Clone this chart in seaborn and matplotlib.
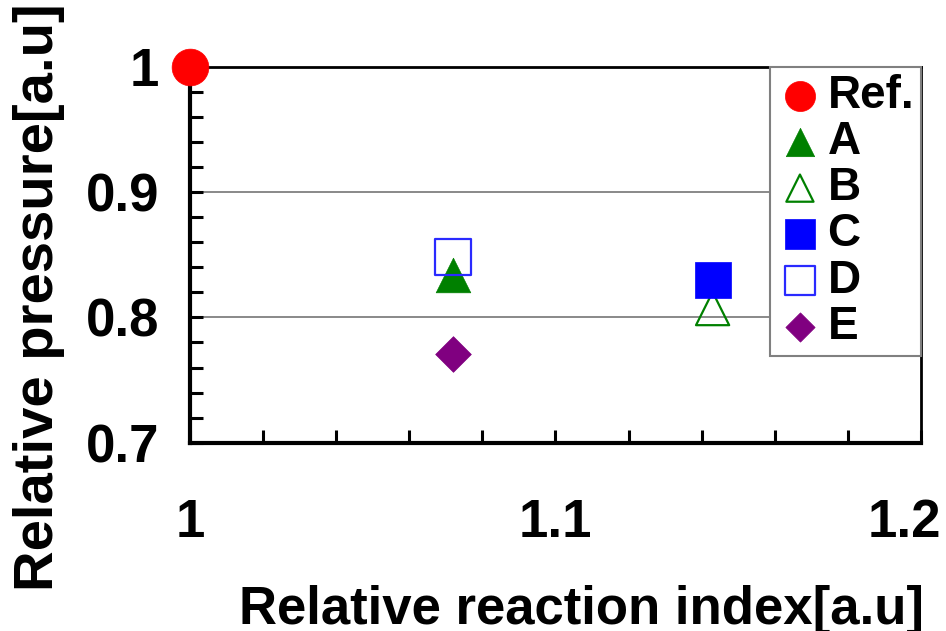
import matplotlib
matplotlib.use('Agg')
import matplotlib.pyplot as plt
import matplotlib.transforms as mtransforms
from matplotlib.ticker import MultipleLocator, FuncFormatter
import seaborn as sns

# data
labels = ['Ref.', 'A', 'B', 'C', 'D', 'E']
reaction_index = [1.0, 1.072, 1.143, 1.143, 1.072, 1.072]
pressure = [1.0, 0.834, 0.807, 0.830, 0.848, 0.771]

# marker styles per series
markers = ['o', '^', '^', 's', 's', 'D']
colors = ['#ff0000', '#008000', '#008000', '#0000ff', '#2a2aff', '#800080']
filled = [True, True, False, True, False, True]
sizes = [700, 620, 570, 700, 670, 330]

sns.set_style('white')
plt.rcParams['font.family'] = ['Liberation Sans', 'DejaVu Sans']
plt.rcParams['font.weight'] = 'bold'
plt.rcParams['text.color'] = 'black'
plt.rcParams['axes.labelcolor'] = 'black'
plt.rcParams['xtick.color'] = 'black'
plt.rcParams['ytick.color'] = 'black'

fig = plt.figure(figsize=(9.46, 6.31), dpi=100)
ax = fig.add_axes([0.2008, 0.2984, 0.7727, 0.5959])

for lab, xv, yv, m, c, f, s in zip(labels, reaction_index, pressure, markers, colors, filled, sizes):
    if f:
        sns.scatterplot(x=[xv], y=[yv], marker=m, s=s, color=c, edgecolor=c,
                        linewidth=0.5, label=lab, ax=ax, clip_on=False, zorder=5)
    else:
        sns.scatterplot(x=[xv], y=[yv], marker=m, s=s, color=c, facecolor='none',
                        edgecolor=c, linewidth=1.6, label=lab, ax=ax, clip_on=False, zorder=5)

ax.set_xlim(1.0, 1.2)
ax.set_ylim(0.7, 1.0)
ax.xaxis.set_major_locator(MultipleLocator(0.1))
ax.xaxis.set_minor_locator(MultipleLocator(0.02))
ax.yaxis.set_major_locator(MultipleLocator(0.1))
ax.yaxis.set_minor_locator(MultipleLocator(0.02))
fmt = FuncFormatter(lambda v, p: '%g' % round(v, 2))
ax.xaxis.set_major_formatter(fmt)
ax.yaxis.set_major_formatter(fmt)

ax.grid(axis='y', which='major', color='#808080', linewidth=1.3)
ax.grid(axis='x', visible=False)
ax.set_axisbelow(True)

ax.tick_params(axis='both', which='both', direction='in', color='black',
               length=9.5, width=2.2, bottom=True, left=True, top=False, right=False)
ax.tick_params(axis='x', which='major', labelsize=38, pad=40, labelcolor='black')
ax.tick_params(axis='y', which='major', labelsize=38, pad=22, labelcolor='black')

for side in ['left', 'bottom']:
    ax.spines[side].set_linewidth(3)
    ax.spines[side].set_color('black')
for side in ['top', 'right']:
    ax.spines[side].set_linewidth(2)
    ax.spines[side].set_color('black')

fig.canvas.draw()
# last x label is pulled in so it stays on the canvas
shift = mtransforms.ScaledTranslation(-17 / 100, 0, fig.dpi_scale_trans)
for tick in ax.xaxis.get_major_ticks():
    if abs(tick.get_loc() - 1.2) < 1e-6:
        tick.label1.set_transform(tick.label1.get_transform() + shift)

ax.set_xlabel('Relative reaction index[a.u]', fontsize=38, fontweight='bold')
ax.set_ylabel('Relative pressure[a.u]', fontsize=40.5, fontweight='bold')
ax.xaxis.set_label_coords(0.536, -0.378)
ax.yaxis.set_label_coords(-0.171, 0.3875)

leg = ax.legend(loc='upper right', bbox_to_anchor=(1.0, 1.0), borderaxespad=0,
                fontsize=33, markerscale=0.82, frameon=True, fancybox=False,
                framealpha=1, edgecolor='#808080', borderpad=0.15,
                labelspacing=0.05, handlelength=1.0, handletextpad=0.1)
leg.get_frame().set_linewidth(1.5)
for t in leg.get_texts():
    t.set_fontweight('bold')

fig.savefig('out.png', dpi=100)
